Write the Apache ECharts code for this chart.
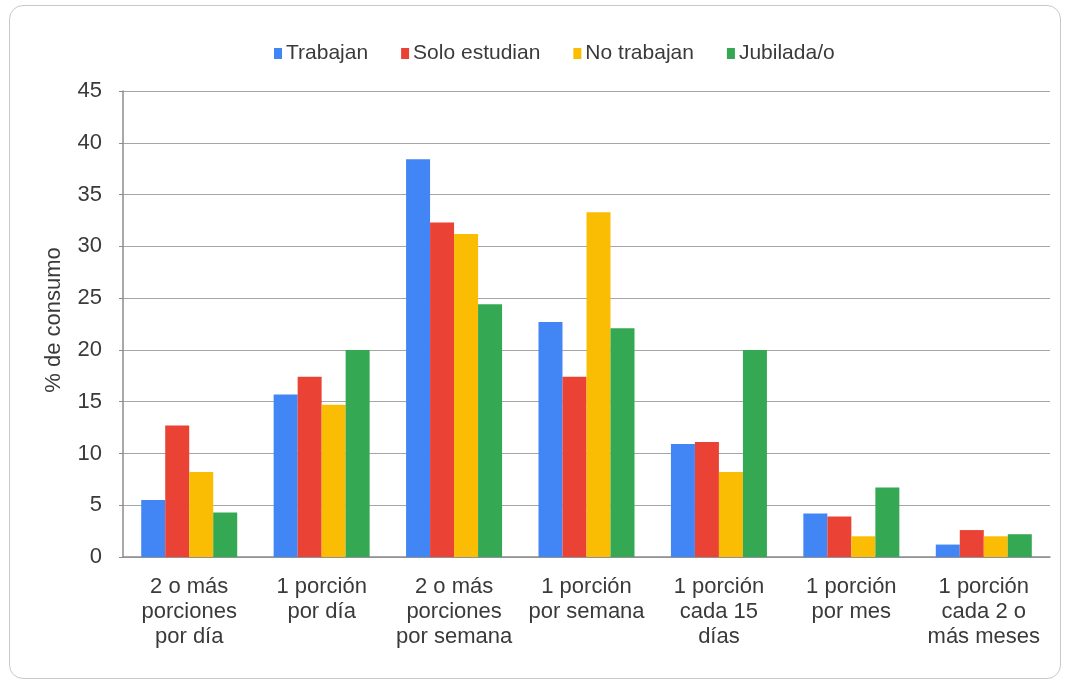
<!DOCTYPE html>
<html>
<head>
<meta charset="utf-8">
<script src="https://cdn.jsdelivr.net/npm/echarts@6/dist/echarts.min.js"></script>
<style>
  html, body { margin: 0; padding: 0; background: #fff; }
  #card {
    position: absolute; left: 9px; top: 5px; width: 1052px; height: 674px;
    border: 1px solid #c8c8c8; border-radius: 14px; box-sizing: border-box; background: #fff;
  }
  #chart { position: absolute; left: 0; top: 0; width: 1071px; height: 685px; }
</style>
</head>
<body>
<div id="card"></div>
<div id="chart"></div>
<script>
const categories = [
  "2 o más\nporciones\npor día",
  "1 porción\npor día",
  "2 o más\nporciones\npor semana",
  "1 porción\npor semana",
  "1 porción\ncada 15\ndías",
  "1 porción\npor mes",
  "1 porción\ncada 2 o\nmás meses"
];
const seriesNames = ["Trabajan", "Solo estudian", "No trabajan", "Jubilada/o"];
const trabajan = [5.5, 15.7, 38.4, 22.7, 10.9, 4.2, 1.2];
const soloEstudian = [12.7, 17.4, 32.3, 17.4, 11.1, 3.9, 2.6];
const noTrabajan = [8.2, 14.7, 31.2, 33.3, 8.2, 2.0, 2.0];
const jubilados = [4.3, 20.0, 24.4, 22.1, 20.0, 6.7, 2.2];
const colors = ["#4285f4", "#ea4335", "#fbbc04", "#34a853"];

const chart = echarts.init(document.getElementById("chart"));
const allData = [trabajan, soloEstudian, noTrabajan, jubilados];

const option = {
  animation: false,
  textStyle: { fontFamily: "Liberation Sans, Arial, sans-serif" },
  color: colors,
  legend: {
    top: 38,
    left: 269,
    itemWidth: 8,
    itemHeight: 11,
    itemGap: 33,
    icon: "rect",
    textStyle: { fontSize: 21, color: "#3a3a3a", padding: [0, 0, 0, -1] },
    data: seriesNames
  },
  grid: { left: 123, right: 21, top: 91, bottom: 128 },
  xAxis: {
    type: "category",
    data: categories,
    axisLine: { lineStyle: { color: "#8c8c8c", width: 1.5 } },
    axisTick: { show: false },
    axisLabel: { fontSize: 22, color: "#3a3a3a", lineHeight: 25, margin: 17, interval: 0 }
  },
  yAxis: {
    type: "value",
    min: 0,
    max: 45,
    interval: 5,
    name: "% de consumo",
    nameLocation: "middle",
    nameGap: 58,
    nameTextStyle: { fontSize: 22, color: "#3a3a3a", padding: [0, 0, 0, 8] },
    axisLine: { show: true, lineStyle: { color: "#8c8c8c", width: 1.5 } },
    axisTick: { show: true, length: 4, lineStyle: { color: "#8c8c8c" } },
    axisLabel: { fontSize: 22, color: "#3a3a3a", margin: 21 },
    splitLine: { lineStyle: { color: "#a6a6a6", width: 1.2 } }
  },
  series: seriesNames.map((name, i) => ({
    name: name,
    type: "bar",
    data: allData[i],
    barWidth: 24,
    barGap: "0%",
    itemStyle: { color: colors[i] }
  }))
};
chart.setOption(option);
</script>
</body>
</html>
